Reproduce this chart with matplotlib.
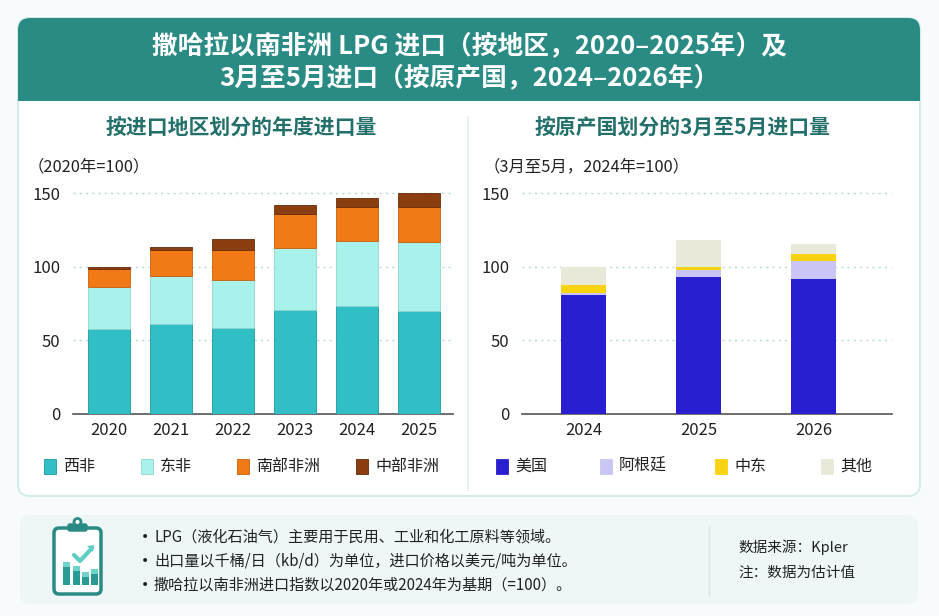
import matplotlib
matplotlib.use("Agg")
import matplotlib.pyplot as plt
from matplotlib.patches import FancyBboxPatch, Rectangle, Polygon
import numpy as np

plt.rcParams['font.family'] = ['Noto Sans CJK SC', 'DejaVu Sans']

# ---------------- data ----------------
years_left = ['2020', '2021', '2022', '2023', '2024', '2025']
west_africa = [58, 61.5, 58.5, 70.5, 73.5, 70]
east_africa = [28.5, 32.3, 32.5, 42.5, 44, 47]
south_africa = [12, 18, 20.5, 23, 23, 24]
central_africa = [1.5, 2, 7.5, 6, 6, 9.5]
left_series = ['西非', '东非', '南部非洲', '中部非洲']

years_right = ['2024', '2025', '2026']
usa = [81, 93, 92]
argentina = [1, 5, 12]
middle_east = [6, 2, 4.5]
others = [12, 18, 7]
right_series = ['美国', '阿根廷', '中东', '其他']

yticks = [0, 50, 100, 150]

title_lines = ['撒哈拉以南非洲 LPG 进口（按地区，2020–2025年）及',
               '3月至5月进口（按原产国，2024–2026年）']
sub_left = '按进口地区划分的年度进口量'
sub_right = '按原产国划分的3月至5月进口量'
unit_left = '（2020年=100）'
unit_right = '（3月至5月，2024年=100）'
notes = ['LPG（液化石油气）主要用于民用、工业和化工原料等领域。',
         '出口量以千桶/日（kb/d）为单位，进口价格以美元/吨为单位。',
         '撒哈拉以南非洲进口指数以2020年或2024年为基期（=100）。']
source = '数据来源：Kpler'
note2 = '注：数据为估计值'

left_colors = ['#2fbfc4', '#a9f2ec', '#f27a16', '#8a3d0e']
left_edges = ['#1f9aa0', '#8fd6d0', '#c8600e', '#6a2c08']
right_colors = ['#2a1fd0', '#c9c5f5', '#f9d312', '#e9e9da']

TEAL = '#2a8a84'
W, H = 939, 616

fig = plt.figure(figsize=(W / 100, H / 100), dpi=100)
fig.patch.set_facecolor('#f8fbfb')

bg = fig.add_axes([0, 0, 1, 1])
bg.set_xlim(0, W)
bg.set_ylim(H, 0)
bg.axis('off')

# main panel
bg.add_patch(FancyBboxPatch((18, 18), 902, 478, boxstyle='round,pad=0,rounding_size=12',
                            facecolor='white', edgecolor='#d3ecea', lw=1.5))
# header
bg.add_patch(FancyBboxPatch((18, 18), 902, 82, boxstyle='round,pad=0,rounding_size=12',
                            facecolor=TEAL, edgecolor='none'))
bg.add_patch(Rectangle((18, 60), 902, 41, facecolor=TEAL, edgecolor='none'))
bg.text(469, 46, title_lines[0], ha='center', va='center', color='white',
        fontsize=18.5, fontweight='bold')
bg.text(469, 78, title_lines[1], ha='center', va='center', color='white',
        fontsize=18.5, fontweight='bold')

# subtitles
bg.text(241, 127, sub_left, ha='center', va='center', color='#23706b', fontsize=15, fontweight='bold')
bg.text(683, 127, sub_right, ha='center', va='center', color='#23706b', fontsize=15, fontweight='bold')
# divider
bg.plot([468, 468], [117, 490], color='#e3f0ef', lw=1.2)

# units
bg.text(28, 167, unit_left, ha='left', va='center', color='#222222', fontsize=11.8)
bg.text(484, 167, unit_right, ha='left', va='center', color='#222222', fontsize=11.8)

# ---------------- charts ----------------
px_per_unit = (414 - 193.3) / 150
ytop = 160
ax_h = ytop * px_per_unit


def make_ax(x0, x1):
    ax = fig.add_axes([x0 / W, (H - 414) / H, (x1 - x0) / W, ax_h / H])
    ax.set_ylim(0, ytop)
    ax.set_yticks(yticks)
    for s in ['top', 'right', 'left']:
        ax.spines[s].set_visible(False)
    ax.spines['bottom'].set_color('#555555')
    ax.spines['bottom'].set_linewidth(1.2)
    ax.tick_params(axis='both', length=0, labelsize=12, colors='#222222')
    ax.tick_params(axis='y', pad=9)
    ax.tick_params(axis='x', pad=6)
    ax.grid(axis='y', linestyle=(0, (1.5, 3)), color='#b9d6d6', lw=1)
    ax.set_axisbelow(True)
    ax.patch.set_alpha(0)
    return ax


axl = make_ax(73, 453)
xl = np.arange(len(years_left))
bottom = np.zeros(len(years_left))
for vals, c, ec in zip([west_africa, east_africa, south_africa, central_africa], left_colors, left_edges):
    axl.bar(xl, vals, bottom=bottom, width=0.67, color=c, edgecolor=ec, lw=0.6, zorder=3)
    bottom += np.array(vals)
axl.set_xlim(-0.58, 5.55)
axl.set_xticks(xl)
axl.set_xticklabels(years_left)

axr = make_ax(521.7, 891.7)
xr = np.arange(len(years_right))
bottom = np.zeros(len(years_right))
for vals, c in zip([usa, argentina, middle_east, others], right_colors):
    axr.bar(xr, vals, bottom=bottom, width=0.39, color=c, edgecolor='none', zorder=3)
    bottom += np.array(vals)
axr.set_xlim(-0.537, 2.68)
axr.set_xticks(xr)
axr.set_xticklabels(years_right)

# ---------------- legends ----------------
def legend_item(x, label, color, ec):
    bg.add_patch(Rectangle((x - 6, 459), 12, 15, facecolor=color, edgecolor=ec, lw=0.6))
    bg.text(x + 13, 466.5, label, ha='left', va='center', fontsize=11.5, color='#222222')


for x, lab, c, ec in zip([50, 147, 243, 362], left_series, left_colors, left_edges):
    legend_item(x, lab, c, ec)
for x, lab, c in zip([502, 606, 721, 827], right_series, right_colors):
    legend_item(x, lab, c, c)

# ---------------- bottom panel ----------------
bg.add_patch(FancyBboxPatch((20, 515), 898, 89, boxstyle='round,pad=0,rounding_size=10',
                            facecolor='#eef6f6', edgecolor='none'))
# icon
bg.add_patch(FancyBboxPatch((54, 528), 47, 66, boxstyle='round,pad=0,rounding_size=5',
                            facecolor='white', edgecolor='#2a8a84', lw=2.5))
bg.add_patch(FancyBboxPatch((68, 524), 19, 7, boxstyle='round,pad=0,rounding_size=2',
                            facecolor='#2a8a84', edgecolor='#2a8a84', lw=1))
bg.add_patch(plt.Circle((77.5, 522), 3.5, facecolor='white', edgecolor='#2a8a84', lw=2))
for bx, top in zip([63, 72.5, 81.5, 90.5], [562, 566, 572, 569]):
    bg.add_patch(Rectangle((bx, top), 7, 585 - top, facecolor='#2a9a94', edgecolor='none'))
    bg.add_patch(Rectangle((bx, top), 7, 5, facecolor='#6fd3cc', edgecolor='none'))
bg.plot([74, 80, 92], [555, 561, 548], color='#5fcfc6', lw=3, solid_capstyle='round')
bg.add_patch(Polygon([[94, 545], [87, 546], [93, 552]], closed=True, facecolor='#5fcfc6'))

for yy, t in zip([537, 561, 585], notes):
    bg.text(141, yy, '•', ha='left', va='center', fontsize=10, color='#222222', family='DejaVu Sans')
    bg.text(154, yy, t, ha='left', va='center', fontsize=10.9, color='#222222')
bg.plot([709, 709], [527, 595], color='#d6e6e6', lw=1)
bg.text(738, 547, source, ha='left', va='center', fontsize=10.5, color='#222222')
bg.text(738, 573, note2, ha='left', va='center', fontsize=10.5, color='#222222')

fig.savefig('out.png', dpi=100, facecolor=fig.get_facecolor())
